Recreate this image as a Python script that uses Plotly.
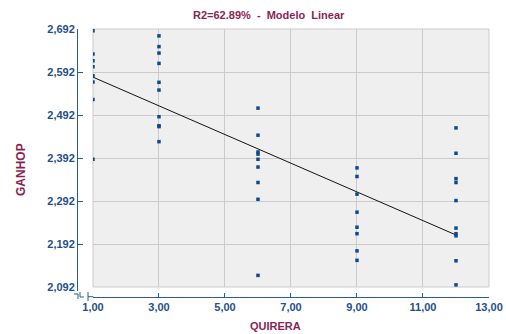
import plotly.graph_objects as go

# ---- data ----
quirera = [1]*8 + [3]*10 + [6]*9 + [9]*8 + [12]*10
ganhop = [
    2.688, 2.634, 2.618, 2.604, 2.583, 2.569, 2.528, 2.389,            # x=1
    2.676, 2.651, 2.636, 2.612, 2.568, 2.550, 2.488, 2.467, 2.465, 2.430,  # x=3
    2.508, 2.445, 2.406, 2.401, 2.389, 2.371, 2.335, 2.296, 2.119,      # x=6
    2.369, 2.349, 2.308, 2.266, 2.231, 2.216, 2.176, 2.154,            # x=9
    2.462, 2.403, 2.344, 2.335, 2.293, 2.229, 2.216, 2.211, 2.153, 2.097,  # x=12
]
fit_x = [1, 12]
fit_y = [2.580, 2.213]

x_ticks = [1, 3, 5, 7, 9, 11, 13]
y_ticks = [2.092, 2.192, 2.292, 2.392, 2.492, 2.592, 2.692]

title_text = "R2=62.89%  -  Modelo  Linear"
x_title = "QUIRERA"
y_title = "GANHOP"

BLUE = "#2b5c98"
TICKBLUE = "#1f4f8a"
MAROON = "#8c1f55"
MARK = "#0c4a8c"
GRID = "#cbcbcb"

fig = go.Figure()
fig.add_trace(go.Scatter(x=fit_x, y=fit_y, mode="lines",
                         line=dict(color="#111111", width=1), hoverinfo="skip"))
fig.add_trace(go.Scatter(x=quirera, y=ganhop, mode="markers",
                         marker=dict(symbol="square", size=3.5, color=MARK,
                                     line=dict(width=0))))

font_ticks = dict(family="Liberation Sans, Arial, sans-serif", size=11, color=TICKBLUE, weight="bold")

fig.update_layout(
    template="none",
    width=506, height=334,
    margin=dict(l=77, r=17, t=29, b=37, autoexpand=False),
    paper_bgcolor="white",
    plot_bgcolor="#efefef",
    showlegend=False,
    separators=",.",
    font=dict(family="Liberation Sans, Arial, sans-serif"),
    xaxis=dict(
        domain=[0.0388, 1], range=[1, 13], tickvals=x_ticks, tickformat=".2f",
        anchor="free", position=0, automargin=False,
        showline=True, linecolor=BLUE, linewidth=1,
        ticks="inside", ticklen=4, tickcolor=BLUE,
        showgrid=True, gridcolor=GRID, gridwidth=1, zeroline=False,
        tickfont=font_ticks,
    ),
    yaxis=dict(
        domain=[0.0373, 1], range=[2.092, 2.692], tickvals=y_ticks, tickformat=".3f",
        anchor="free", position=0, automargin=False,
        showline=True, linecolor=BLUE, linewidth=1,
        ticks="inside", ticklen=5, tickcolor=BLUE,
        showgrid=True, gridcolor=GRID, gridwidth=1, zeroline=False,
        tickfont=font_ticks,
    ),
)

# plot-area border
fig.add_shape(type="rect", xref="x domain", yref="y domain", x0=0, x1=1, y0=0, y1=1,
              line=dict(color=GRID, width=1), layer="below")

# axis break marks (pixel-ish positions in paper units)
W = 506 - 77 - 17
H = 334 - 29 - 37
def px(x):
    return (x - 77) / W
def py(y):
    return (334 - 37 - y) / H

fig.add_shape(type="line", xref="paper", yref="paper", x0=px(77.5), x1=px(77.5), y0=py(287), y1=py(291),
              line=dict(color=BLUE, width=1))
fig.add_shape(type="path", xref="paper", yref="paper",
              path=f"M {px(74)},{py(294)} L {px(78)},{py(294)} L {px(78)},{py(299)}",
              line=dict(color=BLUE, width=1))
fig.add_shape(type="path", xref="paper", yref="paper",
              path=f"M {px(80)},{py(292)} L {px(80)},{py(297)} L {px(84)},{py(297)}",
              line=dict(color=BLUE, width=1))
fig.add_shape(type="line", xref="paper", yref="paper", x0=px(88), x1=px(88), y0=py(292), y1=py(301),
              line=dict(color=BLUE, width=1))
fig.add_shape(type="line", xref="paper", yref="paper", x0=px(88), x1=px(93.3), y0=py(296.7), y1=py(296.7),
              line=dict(color=BLUE, width=1))

fig.add_annotation(text=f"<b>{title_text}</b>", xref="paper", yref="paper",
                   x=px(269), y=py(15), xanchor="center", yanchor="middle", showarrow=False,
                   font=dict(size=11, color=MAROON))
fig.add_annotation(text=f"<b>{x_title}</b>", xref="paper", yref="paper",
                   x=px(275), y=py(326), xanchor="center", yanchor="middle", showarrow=False,
                   font=dict(size=11, color=MAROON))
fig.add_annotation(text=f"<b>{y_title}</b>", xref="paper", yref="paper",
                   x=px(21), y=py(170), xanchor="center", yanchor="middle", showarrow=False,
                   textangle=-90, font=dict(size=12, color=MAROON))

fig.write_html("out.html", config={"displayModeBar": False},
               post_script="document.body.style.margin='0';document.body.style.padding='0';")
